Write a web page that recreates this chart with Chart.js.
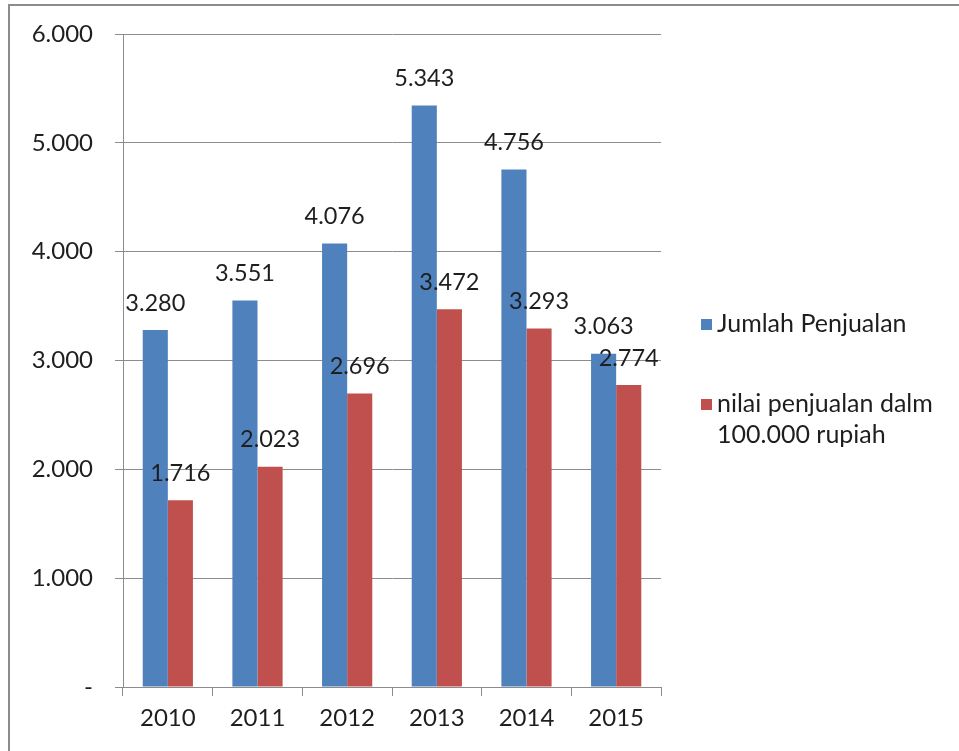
<!DOCTYPE html>
<html>
<head>
<meta charset="utf-8">
<script src="https://cdn.jsdelivr.net/npm/chart.js@4"></script>
<style>
html,body{margin:0;padding:0;background:#fff;}
#c{display:block;}
</style>
</head>
<body>
<canvas id="c" width="959" height="751"></canvas>
<script>
const categories = ['2010','2011','2012','2013','2014','2015'];
const jumlahPenjualan = [3280, 3551, 4076, 5343, 4756, 3063];
const nilaiPenjualan = [1716, 2023, 2696, 3472, 3293, 2774];
const seriesNames = ['Jumlah Penjualan', ['nilai penjualan dalm', '100.000 rupiah']];
const yTicks = [0, 1000, 2000, 3000, 4000, 5000, 6000];

const FONT = 'Lato, "Open Sans", sans-serif';
const BLUE = '#4F81BD';
const RED = '#C0504D';
const TEXT = '#1e1e1e';

function fmt(v){
  if (v === 0) return '-';
  return v.toString().replace(/\B(?=(\d{3})+(?!\d))/g, '.');
}

const framePlugin = {
  id: 'frame',
  beforeDraw(chart){
    const ctx = chart.ctx;
    ctx.save();
    ctx.fillStyle = '#fff';
    ctx.fillRect(0,0,chart.width,chart.height);
    ctx.strokeStyle = '#8c8c8c';
    ctx.lineWidth = 2;
    ctx.beginPath();
    ctx.moveTo(9, chart.height);
    ctx.lineTo(9, 5);
    ctx.lineTo(chart.width, 5);
    ctx.stroke();
    ctx.restore();
  }
};

const labelPlugin = {
  id: 'valueLabels',
  afterDatasetsDraw(chart){
    const ctx = chart.ctx;
    ctx.save();
    ctx.font = '23.5px ' + FONT;
    ctx.fillStyle = TEXT;
    ctx.textAlign = 'center';
    ctx.textBaseline = 'middle';
    chart.data.datasets.forEach((ds, di) => {
      const meta = chart.getDatasetMeta(di);
      meta.data.forEach((bar, i) => {
        ctx.fillText(fmt(ds.data[i]), bar.x, bar.y - 27);
      });
    });
    ctx.restore();
  }
};

const legendPlugin = {
  id: 'customLegend',
  afterDraw(chart){
    const ctx = chart.ctx;
    ctx.save();
    ctx.font = '25px ' + FONT;
    ctx.textAlign = 'left';
    ctx.textBaseline = 'middle';
    const items = [
      {color: BLUE, y: 324, lines: [seriesNames[0]]},
      {color: RED, y: 404, lines: seriesNames[1]}
    ];
    items.forEach(it => {
      ctx.fillStyle = it.color;
      ctx.fillRect(701, it.y - 5, 11, 11);
      ctx.fillStyle = TEXT;
      it.lines.forEach((t, k) => ctx.fillText(t, 717, it.y + k * 31));
    });
    ctx.restore();
  }
};

new Chart(document.getElementById('c'), {
  type: 'bar',
  data: {
    labels: categories,
    datasets: [
      {label: seriesNames[0], data: jumlahPenjualan, backgroundColor: BLUE, categoryPercentage: 0.56, barPercentage: 1.0},
      {label: seriesNames[1].join(' '), data: nilaiPenjualan, backgroundColor: RED, categoryPercentage: 0.56, barPercentage: 1.0}
    ]
  },
  options: {
    responsive: false,
    devicePixelRatio: 1,
    animation: false,
    layout: {padding: {top: 34, right: 298, bottom: 0, left: 0}},
    plugins: {legend: {display: false}, tooltip: {enabled: false}},
    scales: {
      x: {
        grid: {display: true, drawOnChartArea: false, offset: true, tickLength: 9, color: '#8c8c8c'},
        border: {color: '#8c8c8c'},
        ticks: {font: {family: FONT, size: 24}, color: TEXT, padding: 8},
        afterFit(s){ s.height = 64; s.paddingLeft = 0; s.paddingRight = 0; }
      },
      y: {
        min: 0, max: 6000,
        afterBuildTicks(s){ s.ticks = yTicks.map(v => ({value: v})); },
        grid: {color: '#8c8c8c', tickLength: 8},
        border: {color: '#8c8c8c'},
        ticks: {font: {family: FONT, size: 24}, color: TEXT, padding: 22, callback: v => fmt(v)},
        afterFit(s){ s.width = 123; s.paddingTop = 0; s.paddingBottom = 0; }
      }
    }
  },
  plugins: [framePlugin, labelPlugin, legendPlugin]
});
</script>
</body>
</html>
